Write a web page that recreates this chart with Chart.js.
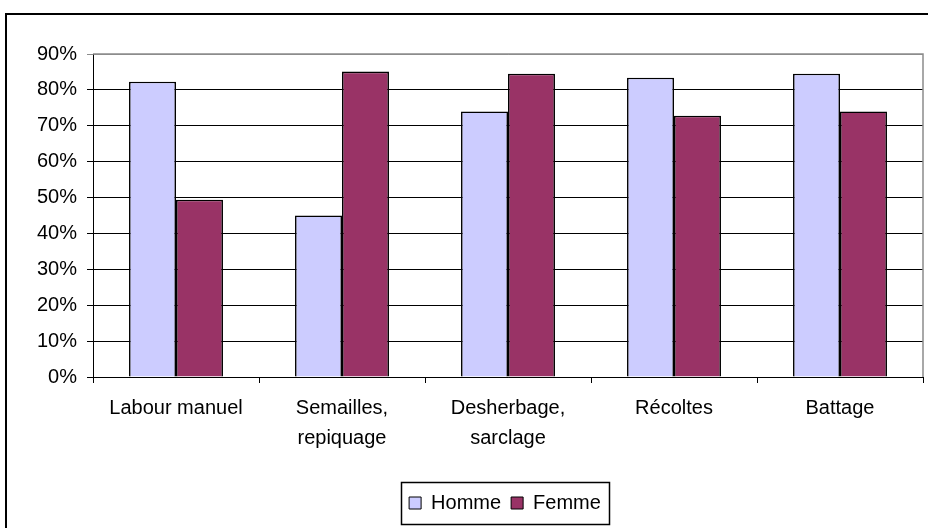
<!DOCTYPE html>
<html>
<head>
<meta charset="utf-8">
<script src="https://cdn.jsdelivr.net/npm/chart.js@4"></script>
<style>
  html, body { margin: 0; padding: 0; background: #fff; overflow: hidden; }
  #wrap { position: relative; width: 928px; height: 528px; }
  #frame {
    position: absolute; left: 5px; top: 13px; width: 1000px; height: 600px;
    border: 2px solid #000; box-sizing: border-box;
  }
  canvas { position: absolute; left: 0; top: 0; }
</style>
</head>
<body>
<div id="wrap">
  <div id="frame"></div>
  <canvas id="chart" width="928" height="528"></canvas>
</div>
<script>
// data
const categories = [["Labour manuel"], ["Semailles,", "repiquage"], ["Desherbage,", "sarclage"], ["Récoltes"], ["Battage"]];
const hommeValues = [82.3, 45.0, 74.0, 83.4, 84.5];
const femmeValues = [49.4, 85.1, 84.5, 72.8, 74.0];
const seriesNames = ["Homme", "Femme"];
const yTicks = [0, 10, 20, 30, 40, 50, 60, 70, 80, 90];

const FONT = { family: "'Liberation Sans', Arial, sans-serif", size: 20 };

// gray plot border on top/right, legend moved under the plot, box round the legend
const frameBits = {
  id: "frameBits",
  afterLayout(chart) {
    const lg = chart.legend;
    const a = chart.chartArea;
    const shift = (a.left + a.right) / 2 - 3 - (lg.left + lg.right) / 2;
    lg.left += shift;
    lg.right += shift;
  },
  beforeDatasetsDraw(chart) {
    const { ctx, chartArea: a } = chart;
    ctx.save();
    ctx.strokeStyle = "#8c8c8c";
    ctx.lineWidth = 1.5;
    ctx.beginPath();
    ctx.moveTo(a.left, a.top);
    ctx.lineTo(a.right, a.top);
    ctx.lineTo(a.right, a.bottom);
    ctx.stroke();
    ctx.restore();
  },
  afterDraw(chart) {
    const lg = chart.legend;
    if (!lg || !lg.legendHitBoxes.length) return;
    const boxes = lg.legendHitBoxes;
    const first = boxes[0], last = boxes[boxes.length - 1];
    const cy = first.top + first.height / 2;
    const ctx = chart.ctx;
    ctx.save();
    ctx.strokeStyle = "#000";
    ctx.lineWidth = 1.5;
    ctx.strokeRect(Math.round(first.left - 8) + 0.5, Math.round(cy - 21) + 0.5,
      Math.round(last.left + last.width - first.left + 16), 42);
    ctx.restore();
  }
};

new Chart(document.getElementById("chart"), {
  type: "bar",
  data: {
    labels: categories,
    datasets: [
      {
        label: seriesNames[0],
        data: hommeValues,
        backgroundColor: "#CCCCFF",
        borderColor: "#000",
        borderWidth: 1.6
      },
      {
        label: seriesNames[1],
        data: femmeValues,
        backgroundColor: "#993366",
        borderColor: "#000",
        borderWidth: 1.6
      }
    ]
  },
  options: {
    responsive: false,
    animation: false,
    layout: { padding: { left: 10, right: 5, top: 54, bottom: 5 } },
    datasets: { bar: { categoryPercentage: 0.566, barPercentage: 1.0 } },
    plugins: {
      tooltip: { enabled: false },
      legend: {
        position: "bottom",
        labels: {
          font: FONT,
          color: "#000",
          boxWidth: 12,
          boxHeight: 12,
          padding: 10,
          generateLabels: chart => chart.data.datasets.map((ds, i) => ({
            text: ds.label,
            fillStyle: ds.backgroundColor,
            strokeStyle: "#000",
            lineWidth: 1,
            datasetIndex: i
          }))
        }
      }
    },
    scales: {
      x: {
        afterFit: s => { s.height = 106; },
        grid: {
          offset: true,
          drawOnChartArea: false,
          drawTicks: true,
          tickLength: 6,
          color: "#000"
        },
        border: { color: "#000", width: 1 },
        ticks: {
          font: { ...FONT, lineHeight: 1.5 },
          color: "#000",
          padding: 10,
          maxRotation: 0,
          autoSkip: false
        }
      },
      y: {
        min: 0,
        max: 90,
        afterFit: s => { s.width = 83; },
        afterBuildTicks: s => { s.ticks = yTicks.map(v => ({ value: v })); },
        grid: {
          color: c => (c.tick && c.tick.value === 90 ? "#8c8c8c" : "#000"),
          tickLength: 6,
          lineWidth: 1
        },
        border: { color: "#000", width: 1 },
        ticks: {
          font: FONT,
          color: "#000",
          padding: 10,
          callback: v => v + "%"
        }
      }
    }
  },
  plugins: [frameBits]
});
</script>
</body>
</html>
